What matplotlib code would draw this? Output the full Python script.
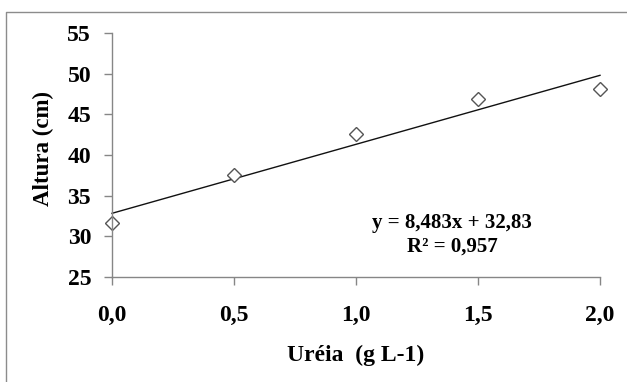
import matplotlib.pyplot as plt
from matplotlib.lines import Line2D

# Data
ureia = [0.0, 0.5, 1.0, 1.5, 2.0]
altura = [31.6, 37.5, 42.6, 46.9, 48.1]
slope = 8.483
intercept = 32.83
y_ticks = [25, 30, 35, 40, 45, 50, 55]
x_ticks = [0.0, 0.5, 1.0, 1.5, 2.0]
x_tick_labels = ['0,0', '0,5', '1,0', '1,5', '2,0']

plt.rcParams['font.family'] = 'Liberation Serif'
plt.rcParams['font.weight'] = 'bold'

W, H = 627, 382
fig = plt.figure(figsize=(W / 100, H / 100), dpi=100)

# outer frame: only the left and top edges show in the crop
frame_x = [5.5 / W, 5.5 / W, 1.0]
frame_y = [0.0, 1 - 11.5 / H, 1 - 11.5 / H]
fig.lines.append(Line2D(frame_x, frame_y, transform=fig.transFigure,
                        color='#8c8c8c', linewidth=1.0))

ax = fig.add_axes([112 / W, 1 - 277 / H, (600 - 112) / W, (277 - 33) / H])
ax.set_xlim(0, 2.0)
ax.set_ylim(25, 55)

fit_x = [ureia[0], ureia[-1]]
fit_y = [intercept + slope * v for v in fit_x]
ax.plot(fit_x, fit_y, color='#111111', linewidth=1.0, clip_on=False)
ax.plot(ureia, altura, linestyle='none', marker='D', markersize=7,
        markerfacecolor='white', markeredgecolor='#555555', markeredgewidth=1.0, clip_on=False)

for s in ['top', 'right']:
    ax.spines[s].set_visible(False)
for s in ['left', 'bottom']:
    ax.spines[s].set_color('#868686')
    ax.spines[s].set_linewidth(1.0)

ax.set_yticks(y_ticks)
ax.set_xticks(x_ticks)
ax.set_xticklabels(x_tick_labels)
ax.tick_params(axis='both', color='#868686', length=6, width=1.0, labelsize=17)
ax.tick_params(axis='x', pad=14)
ax.tick_params(axis='y', pad=9)

ax.set_xlabel('Uréia  (g L-1)', fontsize=17, fontweight='bold', va='center')
ax.xaxis.set_label_coords(0.5, -0.32)
ax.set_ylabel('Altura (cm)', fontsize=16.5, fontweight='bold', va='center')
ax.yaxis.set_label_coords(-0.14, 0.525)

ax.text(1.393, 30.2, 'y = 8,483x + 32,83\nR² = 0,957', fontsize=15, fontweight='bold',
        ha='center', va='center', linespacing=1.25)

fig.savefig('out.png', dpi=100)
